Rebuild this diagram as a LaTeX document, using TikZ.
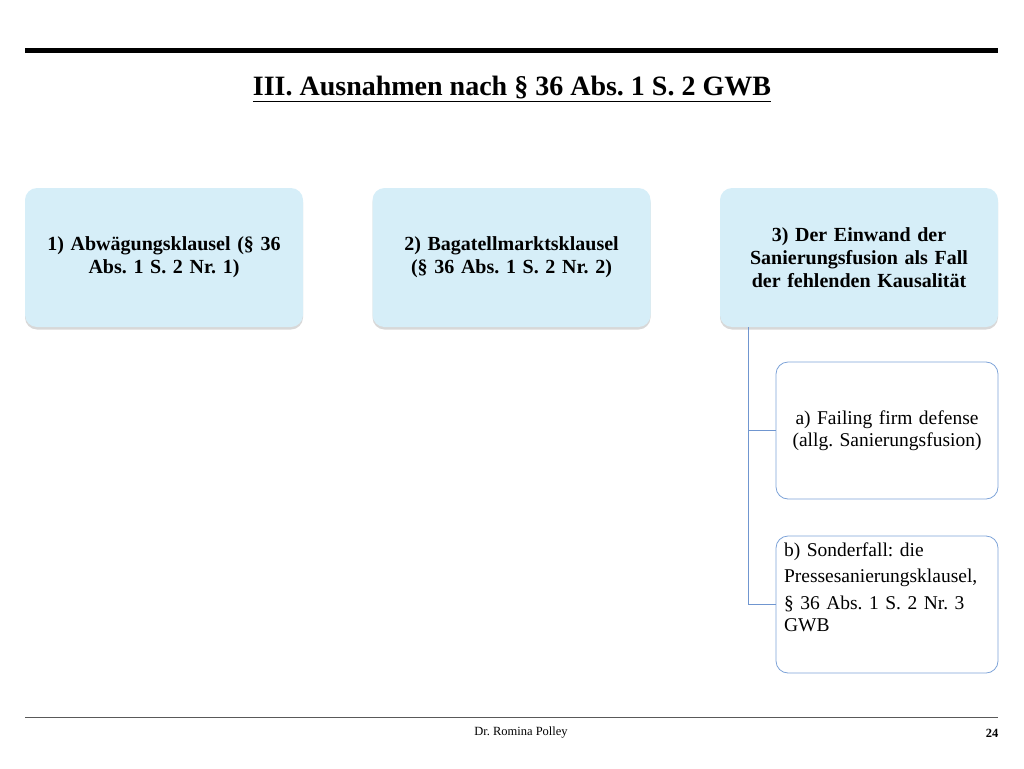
\documentclass[tikz,border=0pt]{standalone}
\usepackage{fontspec}
\setmainfont{Liberation Serif}
\usetikzlibrary{shadows}
\definecolor{boxfill}{RGB}{214,238,248}
\definecolor{subline}{RGB}{125,163,216}
\definecolor{linkline}{RGB}{112,150,208}
\frenchspacing
\begin{document}
\begin{tikzpicture}[x=1pt,y=-1pt]

\tikzstyle top=[rounded corners=12pt, fill=boxfill, minimum width=278pt, minimum height=139pt, text width=266pt, align=center, font=\fontsize{20}{23}\selectfont\bfseries, drop shadow={shadow xshift=0pt, shadow yshift=-2.5pt, opacity=.22, fill=black!70}]
\tikzstyle sub=[rounded corners=12pt, draw=subline, line width=.8pt, fill=white, minimum width=222pt, minimum height=137pt, text width=212pt, font=\fontsize{19.5}{22.5}\selectfont]
\tikzstyle link=[draw=linkline, line width=.8pt]

\useasboundingbox (0,0) rectangle (1024,768);

\draw [line width=5pt] (25,51) -- (998,51);
\node (title) at (512,89) {\fontsize{28}{32}\selectfont\bfseries\underline{III. Ausnahmen nach § 36 Abs. 1 S. 2 GWB}};

\node (t1) [top] at (164,257.5) {1) Abwägungsklausel (§ 36\\Abs. 1 S. 2 Nr. 1)};
\node (t2) [top] at (511.5,257.5) {2) Bagatellmarktsklausel\\(§ 36 Abs. 1 S. 2 Nr. 2)};
\node (t3) [top] at (859,257.5) {3) Der Einwand der\\Sanierungsfusion als Fall\\der fehlenden Kausalität};

\node (sa) [sub, align=center] at (887,430.5) {a) Failing firm defense\\(allg. Sanierungsfusion)};
\node (sb) [sub, text width=206pt, inner xsep=7pt, inner ysep=6pt] at (887,604.5) {\parbox[c][124pt][t]{206pt}{\raggedright b) Sonderfall: die\\[4pt]Pressesanierungsklausel,\\[4pt]§ 36 Abs. 1 S. 2 Nr. 3\\GWB}};

\coordinate (k) at (748,327);
\draw [link] (k) |- (sa.west);
\draw [link] (k) |- (sb.west);

\draw [line width=1pt, black!65] (25,717) -- (998,717);
\node (foot) at (521,733) {\fontsize{12.5}{14}\selectfont Dr. Romina Polley};
\node (page) at (992,733) {\fontsize{12.5}{14}\selectfont\bfseries 24};

\end{tikzpicture}
\end{document}
